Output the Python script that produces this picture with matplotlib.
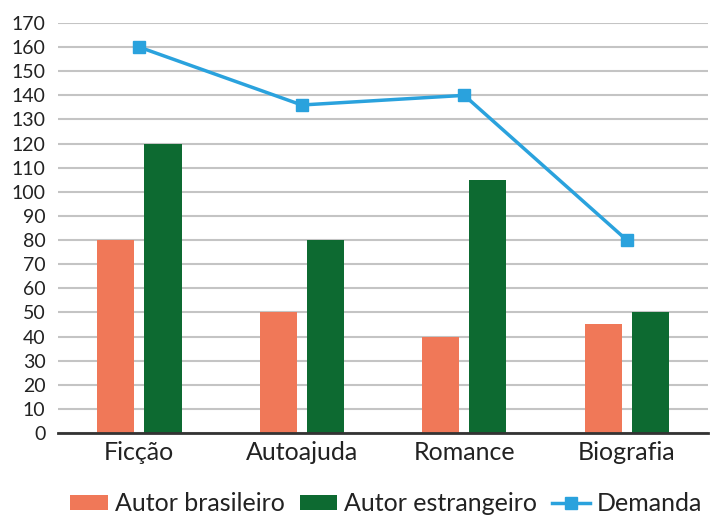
import numpy as np
import matplotlib.pyplot as plt

categorias = ['Ficção', 'Autoajuda', 'Romance', 'Biografia']
autor_brasileiro = [80, 50, 40, 45]
autor_estrangeiro = [120, 80, 105, 50]
demanda = [160, 136, 140, 80]
yticks = list(range(0, 171, 10))

laranja = '#F07858'
verde = '#0D6A31'
azul = '#2AA2DD'

plt.rcParams['font.family'] = ['Lato', 'DejaVu Sans']

fig = plt.figure(figsize=(7.21, 5.31), dpi=100)
ax = fig.add_axes([58 / 721, 1 - 433 / 531, 650 / 721, 410 / 531])

x = np.arange(len(categorias))
w = 0.23
b1 = ax.bar(x - 0.145, autor_brasileiro, w, color=laranja, label='Autor brasileiro', zorder=2)
b2 = ax.bar(x + 0.145, autor_estrangeiro, w, color=verde, label='Autor estrangeiro', zorder=2)
l1, = ax.plot(x, demanda, color=azul, lw=2.5, marker='s', ms=8, label='Demanda', zorder=3)

ax.set_xlim(-0.5, len(categorias) - 0.5)
ax.set_ylim(0, 170)
ax.set_yticks(yticks)
ax.set_xticks(x)
ax.set_xticklabels(categorias, fontsize=18, color='#222222')
ax.tick_params(axis='y', labelsize=14, length=0, pad=9, labelcolor='#222222')
ax.tick_params(axis='x', length=0, pad=6)
ax.grid(axis='y', color='#c4c4c4', lw=1.5, zorder=0)
for s in ['top', 'right', 'left']:
    ax.spines[s].set_visible(False)
ax.spines['bottom'].set_color('#333333')
ax.spines['bottom'].set_linewidth(2)
ax.spines['bottom'].set_zorder(4)

ax.legend([b1, b2, l1], ['Autor brasileiro', 'Autor estrangeiro', 'Demanda'],
          loc='upper center', bbox_to_anchor=(0.505, -0.108), ncol=3, frameon=False,
          fontsize=18, handlelength=1.5, handleheight=0.55, handletextpad=0.28,
          columnspacing=0.6, labelcolor='#222222', borderaxespad=0.2)

fig.savefig('out.png', dpi=100)
